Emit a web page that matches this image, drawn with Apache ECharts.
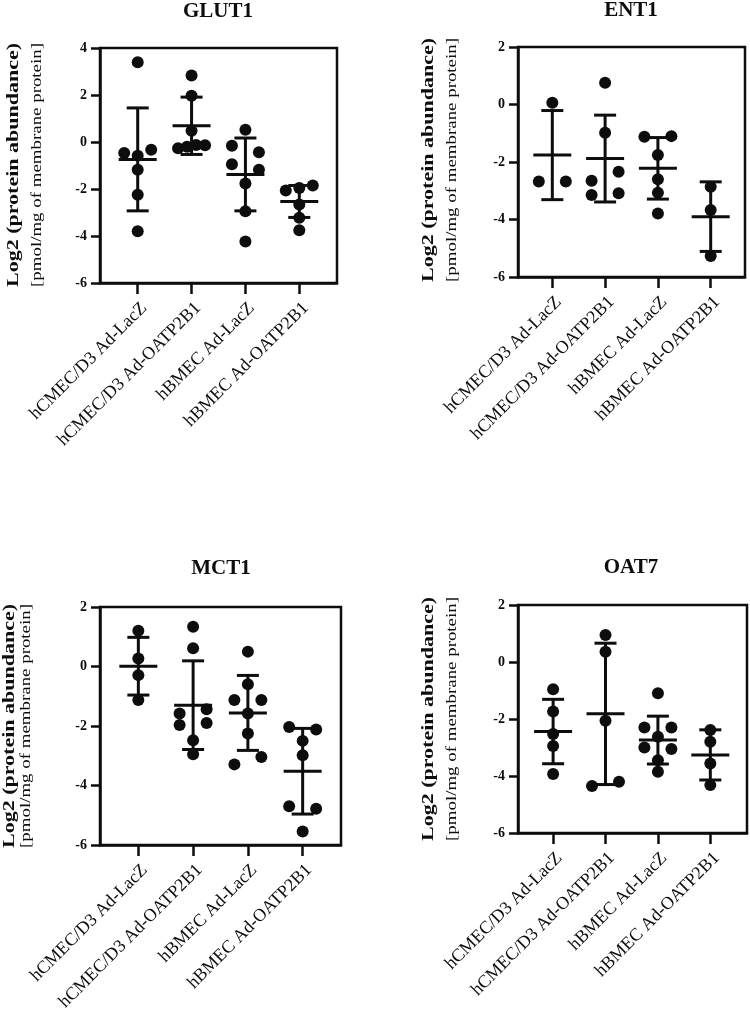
<!DOCTYPE html>
<html><head><meta charset="utf-8">
<script src="https://cdn.jsdelivr.net/npm/echarts@6/dist/echarts.min.js"></script>
<style>html,body{margin:0;padding:0;background:#fff}#c{width:750px;height:1009px}</style>
</head><body><div id="c"></div>
<script>
// ---------- data ----------
const categories = ['hCMEC/D3 Ad-LacZ', 'hCMEC/D3 Ad-OATP2B1', 'hBMEC Ad-LacZ', 'hBMEC Ad-OATP2B1'];
const yTitle1 = 'Log2 (protein abundance)';
const yTitle2 = '[pmol/mg of membrane protein]';

const glut1Points = [
  [3.39, -0.47, -0.58, -0.33, -1.18, -2.24, -3.80],
  [2.83, 1.97, 0.48, -0.27, -0.20, -0.13, -0.14],
  [0.52, -0.16, -0.44, -0.95, -1.18, -1.77, -2.95, -4.23],
  [-2.06, -1.96, -1.85, -2.66, -3.22, -3.76]
];
const glut1Mean = [-0.74, 0.69, -1.38, -2.53];
const glut1SD = [2.19, 1.22, 1.55, 0.68];

const ent1Points = [
  [0.06, -2.68, -2.68],
  [0.76, -0.98, -2.65, -2.34, -3.15, -3.09],
  [-1.12, -1.10, -1.76, -2.60, -3.07, -3.79],
  [-2.86, -3.67, -5.27]
];
const ent1Mean = [-1.76, -1.88, -2.22, -3.90];
const ent1SD = [1.55, 1.51, 1.07, 1.21];

const mct1Points = [
  [1.20, 0.27, -0.29, -1.13],
  [1.34, 0.61, -1.58, -1.44, -1.97, -1.90, -2.48, -2.95],
  [0.50, -0.60, -1.13, -1.13, -1.58, -2.25, -3.29, -3.04],
  [-2.03, -2.12, -2.50, -2.98, -4.70, -4.78, -5.55]
];
const mct1Mean = [0.01, -1.30, -1.56, -3.52];
const mct1SD = [0.97, 1.49, 1.26, 1.44];

const oat7Points = [
  [-0.96, -1.74, -2.53, -2.95, -3.93],
  [0.95, 0.36, -2.06, -4.35, -4.20],
  [-1.10, -2.30, -2.62, -2.30, -3.00, -3.05, -3.45, -3.85],
  [-2.39, -2.80, -3.56, -4.32]
];
const oat7Mean = [-2.44, -1.82, -2.74, -3.26];
const oat7SD = [1.13, 2.48, 0.84, 0.88];

// ---------- layout ----------
const panels = [
  {name:'GLUT1', points:glut1Points, mean:glut1Mean, sd:glut1SD, yMin:-6, yMax:4,
   grid:{left:100, top:48, width:237, height:235}, xMin:0.30, xMax:4.70,
   title:[218, 12], yt:[14, 37, 165]},
  {name:'ENT1', points:ent1Points, mean:ent1Mean, sd:ent1SD, yMin:-6, yMax:2,
   grid:{left:518, top:47, width:227, height:230}, xMin:0.35, xMax:4.65,
   title:[631, 11], yt:[429, 452, 160]},
  {name:'MCT1', points:mct1Points, mean:mct1Mean, sd:mct1SD, yMin:-6, yMax:2,
   grid:{left:100, top:607, width:241, height:238}, xMin:0.30, xMax:4.70,
   title:[221, 569], yt:[10, 26, 726]},
  {name:'OAT7', points:oat7Points, mean:oat7Mean, sd:oat7SD, yMin:-6, yMax:2,
   grid:{left:518, top:605, width:229, height:228}, xMin:0.33, xMax:4.70,
   title:[631, 568], yt:[429, 452, 719]}
];

const INK = '#0d0d0d';
const SERIF = '"Liberation Serif", "Times New Roman", serif';
const catPos = categories.map((c, i) => i + 1);

// beeswarm-like spreading of points that sit at (nearly) the same height
function swarm(values, center, pxPerUnit, stepUnits) {
  const idx = values.map((v, i) => i).sort((a, b) => (values[b] - values[a]) || (a - b));
  const rows = []; let cur = null;
  idx.forEach(i => {
    if (cur && (values[cur.anchor] - values[i]) * pxPerUnit < 10) cur.members.push(i);
    else { cur = {anchor: i, members: [i]}; rows.push(cur); }
  });
  const out = [];
  rows.forEach(r => {
    const m = r.members.slice().sort((a, b) => a - b);
    const n = m.length;
    m.forEach((i, k) => {
      const off = n === 1 ? 0 : (-1 + 2 * k / (n - 1));
      out.push([center + off * stepUnits, values[i]]);
    });
  });
  return out;
}

const measureCtx = document.createElement('canvas').getContext('2d');
function textWidth(text, font) { measureCtx.font = font; return measureCtx.measureText(text).width; }

const grids = [], xAxes = [], yAxes = [], series = [], graphics = [];
const FONT1 = 'bold 16px ' + SERIF;
const FONT2 = '14px ' + SERIF;
const TARGET_LEN = 244;

panels.forEach((p, gi) => {
  grids.push(Object.assign({show:true, borderColor:INK, borderWidth:2.5, containLabel:false, outerBoundsMode:'none'}, p.grid));
  xAxes.push({
    type:'value', gridIndex:gi, min:p.xMin, max:p.xMax,
    axisLine:{show:true, onZero:false, lineStyle:{color:INK, width:2.5}},
    axisTick:{show:true, customValues:catPos, length:11, lineStyle:{color:INK, width:2.5}},
    axisLabel:{show:true, customValues:catPos, rotate:45, margin:16, verticalAlign:'top',
      formatter: v => categories[Math.round(v) - 1] || '',
      color:INK, fontFamily:SERIF, fontSize:18},
    splitLine:{show:false}
  });
  yAxes.push({
    type:'value', gridIndex:gi, min:p.yMin, max:p.yMax, interval:2,
    axisLine:{show:true, onZero:false, lineStyle:{color:INK, width:2.5}},
    axisTick:{show:true, length:9, lineStyle:{color:INK, width:2.5}},
    axisLabel:{color:INK, fontFamily:SERIF, fontWeight:'bold', fontSize:14, margin:13},
    splitLine:{show:false}
  });
  const pxPerUnit = p.grid.height / (p.yMax - p.yMin);
  const stepUnits = 13.5 / (p.grid.width / (p.xMax - p.xMin));
  let pts = [];
  p.points.forEach((vals, ci) => { pts = pts.concat(swarm(vals, catPos[ci], pxPerUnit, stepUnits)); });
  series.push({
    type:'scatter', xAxisIndex:gi, yAxisIndex:gi, data:pts, symbol:'circle', symbolSize:12,
    itemStyle:{color:INK, opacity:1}, z:2, silent:true
  });
  series.push({
    type:'custom', xAxisIndex:gi, yAxisIndex:gi, z:3, silent:true,
    encode:{x:0, y:1},
    data: p.mean.map((m, ci) => [catPos[ci], m, p.sd[ci]]),
    renderItem(params, api) {
      const x = api.value(0), m = api.value(1), s = api.value(2);
      const c = api.coord([x, m]), t = api.coord([x, m + s]), b = api.coord([x, m - s]);
      const st = {stroke:INK, lineWidth:3, fill:null};
      return {type:'group', children:[
        {type:'line', shape:{x1:c[0], y1:t[1], x2:c[0], y2:b[1]}, style:st},
        {type:'line', shape:{x1:c[0]-11, y1:t[1], x2:c[0]+11, y2:t[1]}, style:st},
        {type:'line', shape:{x1:c[0]-11, y1:b[1], x2:c[0]+11, y2:b[1]}, style:st},
        {type:'line', shape:{x1:c[0]-19, y1:c[1], x2:c[0]+19, y2:c[1]}, style:st}
      ]};
    }
  });
  graphics.push({type:'text', x:p.title[0], y:p.title[1], silent:true,
    style:{text:p.name, font:'bold 21px ' + SERIF, fill:INK, align:'center', verticalAlign:'middle',
           textAlign:'center', textVerticalAlign:'middle'}});
  const s1 = TARGET_LEN / textWidth(yTitle1, FONT1);
  const s2 = TARGET_LEN / textWidth(yTitle2, FONT2);
  graphics.push({type:'text', x:p.yt[0], y:p.yt[2], rotation:Math.PI/2, scaleX:s1, silent:true,
    style:{text:yTitle1, font:FONT1, fill:INK, align:'center', verticalAlign:'middle',
           textAlign:'center', textVerticalAlign:'middle'}});
  graphics.push({type:'text', x:p.yt[1], y:p.yt[2], rotation:Math.PI/2, scaleX:s2, silent:true,
    style:{text:yTitle2, font:FONT2, fill:INK, align:'center', verticalAlign:'middle',
           textAlign:'center', textVerticalAlign:'middle'}});
});

const chart = echarts.init(document.getElementById('c'), null, {renderer:'canvas'});
chart.setOption({
  backgroundColor:'#fff',
  animation:false,
  grid:grids, xAxis:xAxes, yAxis:yAxes, series:series,
  graphic:{elements:graphics}
});
</script>
</body></html>
